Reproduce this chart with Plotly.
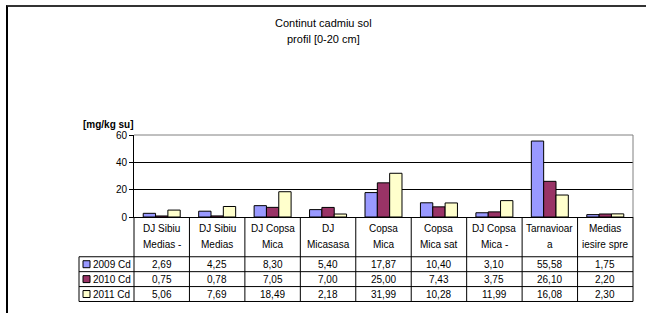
import plotly.graph_objects as go

categories = ["DJ Sibiu\nMedias -", "DJ Sibiu\nMedias", "DJ Copsa\nMica", "DJ\nMicasasa",
              "Copsa\nMica", "Copsa\nMica sat", "DJ Copsa\nMica -", "Tarnavioar\na", "Medias\niesire spre"]
series_names = ["2009 Cd", "2010 Cd", "2011 Cd"]
cd_2009 = [2.69, 4.25, 8.30, 5.40, 17.87, 10.40, 3.10, 55.58, 1.75]
cd_2010 = [0.75, 0.78, 7.05, 7.00, 25.00, 7.43, 3.75, 26.10, 2.20]
cd_2011 = [5.06, 7.69, 18.49, 2.18, 31.99, 10.28, 11.99, 16.08, 2.30]
colors = ["#9999FF", "#993366", "#FFFFCC"]
y_ticks = [0, 20, 40, 60]

W, H = 646, 313
PL, PR, PT, PB = 134, 633, 134.5, 217  # plot area in pixels
FONT = "Liberation Sans, Arial, sans-serif"

def px(x):
    return (x - PL) / (PR - PL)

def py(y):
    return (PB - y) / (PB - PT)

fig = go.Figure()
for name, vals, col in zip(series_names, [cd_2009, cd_2010, cd_2011], colors):
    fig.add_trace(go.Bar(x=list(range(len(categories))), y=vals, name=name,
                         marker=dict(color=col, line=dict(color="black", width=1)),
                         showlegend=False, hoverinfo="skip"))

shapes = []
annotations = []
ncat = len(categories)
colw = (PR - PL) / ncat
hdr_top, hdr_bot = PB, 257
row_h = 15
rows_top = [hdr_bot + i * row_h for i in range(3)]
tab_bot = hdr_bot + 3 * row_h
lab_left = 79

def line(x0, y0, x1, y1, color="black", width=1):
    shapes.append(dict(type="line", xref="paper", yref="paper",
                       x0=px(x0), y0=py(y0), x1=px(x1), y1=py(y1),
                       line=dict(color=color, width=width)))

for i in range(ncat + 1):
    x = PL + i * colw
    line(x, hdr_top, x, tab_bot)
line(lab_left, hdr_bot, lab_left, tab_bot)
for yy in [hdr_bot] + [r + row_h for r in rows_top]:
    line(lab_left, yy, PR, yy)

for i, c in enumerate(categories):
    xc = PL + (i + 0.5) * colw
    parts = c.split("\n")
    for j, p in enumerate(parts):
        annotations.append(dict(xref="paper", yref="paper", x=px(xc), y=py(229 + j * 16),
                                text=p, showarrow=False, xanchor="center", yanchor="middle",
                                font=dict(family=FONT, size=10, color="black")))
for r, (name, vals, col) in enumerate(zip(series_names, [cd_2009, cd_2010, cd_2011], colors)):
    yc = rows_top[r] + row_h / 2
    for i, v in enumerate(vals):
        xc = PL + (i + 0.5) * colw
        annotations.append(dict(xref="paper", yref="paper", x=px(xc), y=py(yc + 0.5),
                                text=f"{v:.2f}".replace(".", ","), showarrow=False,
                                xanchor="center", yanchor="middle",
                                font=dict(family=FONT, size=10, color="black")))
    shapes.append(dict(type="rect", xref="paper", yref="paper",
                       x0=px(83), x1=px(90), y0=py(yc - 3.5), y1=py(yc + 3.5),
                       fillcolor=col, line=dict(color="black", width=1)))
    annotations.append(dict(xref="paper", yref="paper", x=px(91), y=py(yc + 0.5),
                            text=name, showarrow=False, xanchor="left", yanchor="middle",
                            font=dict(family=FONT, size=10, color="black")))

# grey plot-area border (top and right)
line(PL, PT, PR, PT, color="#808080")
line(PR, PT, PR, PB, color="#808080")

annotations.append(dict(xref="paper", yref="paper", x=px(323), y=py(22), text="Continut cadmiu sol",
                        showarrow=False, xanchor="center", yanchor="middle",
                        font=dict(family=FONT, size=11, color="black")))
annotations.append(dict(xref="paper", yref="paper", x=px(323), y=py(38), text="profil [0-20 cm]",
                        showarrow=False, xanchor="center", yanchor="middle",
                        font=dict(family=FONT, size=11, color="black")))
annotations.append(dict(xref="paper", yref="paper", x=px(81), y=py(124), text="<b>[mg/kg su]</b>",
                        showarrow=False, xanchor="left", yanchor="middle",
                        font=dict(family=FONT, size=10, color="black")))

fig.update_layout(
    width=W, height=H,
    margin=dict(l=PL, r=W - PR, t=PT, b=H - PB, pad=0),
    paper_bgcolor="white", plot_bgcolor="white",
    barmode="group", bargap=0.333, bargroupgap=0,
    shapes=shapes, annotations=annotations,
    xaxis=dict(range=[-0.5, ncat - 0.5], showticklabels=False, showgrid=False, zeroline=False,
               showline=True, linecolor="black", linewidth=1, ticks=""),
    yaxis=dict(range=[0, 60], tickvals=y_ticks, showgrid=True, gridcolor="black", gridwidth=1,
               zeroline=False, showline=True, linecolor="black", linewidth=1,
               ticks="outside", ticklen=4, tickcolor="black",
               tickfont=dict(family=FONT, size=10, color="black")),
    font=dict(family=FONT),
)

# outer chart frame (only its left and top edges are inside the window)
post = (
    "document.body.style.margin='0';document.body.style.overflow='hidden';"
    "document.documentElement.style.overflow='hidden';"
    "var o=document.createElement('div');"
    "o.style.cssText='position:absolute;left:6px;top:5px;width:800px;height:500px;"
    "border-left:2px solid #000;border-top:2px solid #333;pointer-events:none;box-sizing:border-box;';"
    "document.body.appendChild(o);"
)
fig.write_html("out.html", config={"displayModeBar": False}, post_script=post)
